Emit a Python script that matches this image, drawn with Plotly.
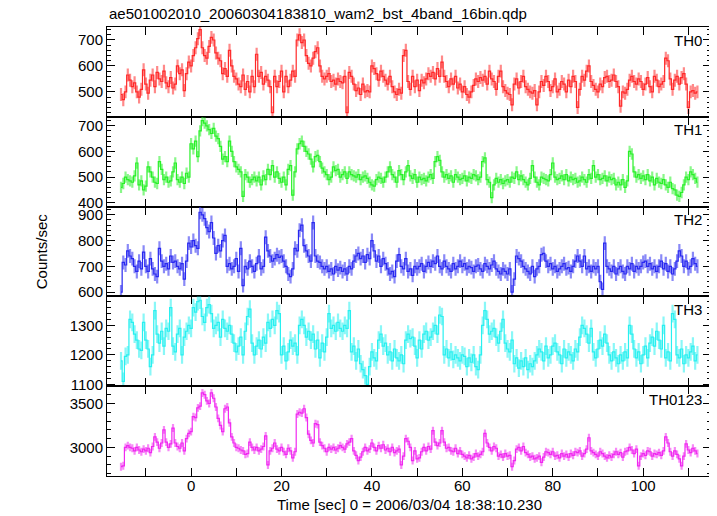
import plotly.graph_objects as go
from plotly.subplots import make_subplots

TITLE = "ae501002010_20060304183810_wam2_bst_4band_16bin.qdp"
X_LABEL = "Time [sec] 0 = 2006/03/04 18:38:10.230"
Y_LABEL = "Counts/sec"
PANELS = ["TH0", "TH1", "TH2", "TH3", "TH0123"]

TIME_START = -15.5
BIN_WIDTH = 0.5

TH0 = [490, 470, 500, 565, 545, 520, 535, 500, 480, 510,
       585, 530, 495, 545, 565, 520, 575, 550, 540, 580,
       535, 520, 555, 515, 530, 600, 570, 585, 505, 570,
       615, 600, 640, 670, 705, 740, 670, 640, 630, 675,
       710, 700, 650, 630, 620, 570, 590, 560, 660, 600,
       560, 550, 530, 520, 565, 510, 540, 500, 560, 520,
       645, 560, 575, 530, 560, 545, 520, 420, 560, 520,
       540, 580, 500, 560, 520, 545, 580, 560, 700, 720,
       690, 700, 640, 610, 600, 630, 655, 670, 600, 560,
       550, 560, 570, 540, 545, 530, 550, 540, 535, 560,
       420, 575, 560, 530, 505, 515, 490, 530, 500, 505,
       500, 600, 590, 570, 545, 580, 560, 545, 530, 560,
       520, 500, 490, 510, 495, 640, 660, 540, 510, 560,
       520, 545, 505, 545, 535, 550, 570, 560, 575, 550,
       590, 560, 615, 560, 540, 520, 550, 530, 560, 515,
       530, 500, 520, 490, 480, 500, 525, 550, 540, 555,
       545, 560, 530, 580, 550, 540, 510, 560, 580, 520,
       505, 495, 490, 450, 530, 550, 515, 540, 560, 520,
       510, 500, 495, 505, 450, 500, 540, 525, 560, 540,
       505, 520, 550, 500, 510, 540, 530, 500, 545, 520,
       560, 540, 440, 510, 560, 545, 580, 600, 540, 525,
       510, 500, 530, 520, 555, 560, 540, 545, 565, 540,
       520, 445, 500, 495, 510, 545, 560, 540, 530, 550,
       540, 510, 530, 555, 520, 500, 560, 545, 520, 530,
       540, 630, 620, 550, 510, 545, 560, 530, 555, 570,
       530, 440, 500, 505, 495, 500]

TH1 = [460, 475, 500, 490, 485, 480, 505, 555, 470, 485,
       450, 465, 540, 520, 500, 480, 475, 560, 530, 490,
       500, 480, 485, 520, 555, 490, 480, 500, 475, 515,
       500, 630, 610, 640, 580, 680, 720, 710, 700, 685,
       670, 690, 660, 650, 620, 570, 580, 560, 640, 600,
       560, 540, 530, 520, 425, 510, 500, 480, 490, 500,
       485, 500, 470, 505, 490, 530, 510, 545, 500, 520,
       495, 480, 500, 470, 530, 545, 430, 520, 610, 630,
       640, 620, 600, 590, 570, 540, 580, 585, 560, 535,
       520, 510, 490, 500, 540, 525, 530, 500, 510, 520,
       495, 520, 510, 505, 500, 510, 490, 500, 505, 495,
       480, 470, 465, 490, 500, 495, 480, 500, 520, 540,
       510, 500, 480, 525, 510, 490, 520, 545, 505, 495,
       510, 480, 500, 490, 495, 485, 500, 510, 495, 560,
       580, 565, 520, 500, 510, 495, 505, 480, 510, 500,
       490, 495, 505, 485, 500, 495, 510, 505, 490, 500,
       560, 575, 490, 480, 420, 470, 495, 480, 490, 475,
       485, 490, 480, 500, 495, 520, 490, 505, 490, 480,
       470, 495, 545, 500, 480, 470, 500, 495, 490, 485,
       510, 555, 500, 490, 495, 505, 490, 510, 485, 500,
       490, 495, 480, 485, 500, 490, 480, 510, 495, 545,
       500, 510, 490, 495, 505, 485, 500, 490, 495, 470,
       480, 470, 490, 460, 485, 600, 590, 520, 500, 510,
       495, 505, 490, 510, 485, 500, 470, 495, 480, 475,
       490, 470, 460, 480, 455, 450, 430, 425, 440, 470,
       500, 490, 520, 510, 495, 480]

TH2 = [600, 715, 705, 760, 740, 730, 700, 680, 720, 690,
       755, 700, 680, 730, 690, 670, 660, 770, 720, 700,
       710, 690, 740, 715, 720, 700, 690, 710, 650, 720,
       790, 775, 800, 780, 770, 910, 900, 885, 850, 835,
       870, 810, 750, 780, 760, 800, 820, 700, 710, 690,
       700, 730, 680, 770, 625, 700, 690, 720, 700, 680,
       710, 740, 690, 700, 813, 760, 740, 720, 730, 745,
       735, 740, 720, 700, 670, 660, 690, 770, 760, 840,
       860, 780, 760, 740, 720, 870, 740, 720, 715, 700,
       690, 700, 680, 690, 670, 700, 685, 695, 680, 690,
       670, 700, 690, 720, 740, 750, 730, 740, 715, 745,
       730, 800, 760, 720, 740, 700, 730, 710, 690, 670,
       680, 660, 720, 745, 700, 690, 730, 680, 690, 665,
       700, 690, 700, 710, 680, 700, 715, 700, 720, 710,
       740, 700, 690, 720, 700, 690, 680, 710, 690, 700,
       720, 700, 710, 690, 700, 695, 680, 700, 705, 690,
       680, 710, 700, 690, 705, 720, 690, 680, 670, 690,
       680, 670, 690, 600, 650, 740, 730, 720, 700, 690,
       680, 670, 700, 660, 690, 700, 745, 750, 720, 700,
       710, 690, 700, 680, 690, 700, 710, 690, 695, 680,
       700, 720, 740, 720, 700, 740, 690, 700, 680, 700,
       690, 700, 640, 610, 790, 700, 690, 680, 700, 670,
       690, 700, 680, 670, 700, 690, 710, 680, 700, 690,
       700, 715, 720, 700, 710, 690, 700, 680, 700, 720,
       690, 710, 680, 700, 670, 690, 720, 760, 740, 700,
       720, 690, 700, 730, 710, 700]

TH3 = [1180, 1110, 1195, 1200, 1320, 1310, 1270, 1250, 1220, 1215,
       1310, 1250, 1220, 1160, 1200, 1350, 1270, 1240, 1280, 1230,
       1290, 1280, 1360, 1230, 1210, 1270, 1290, 1200, 1260, 1280,
       1300, 1290, 1360, 1345, 1380, 1385, 1330, 1310, 1360, 1370,
       1340, 1290, 1300, 1310, 1260, 1320, 1290, 1280, 1300, 1270,
       1240, 1210, 1230, 1260, 1200, 1280, 1330, 1355, 1240, 1200,
       1230, 1250, 1220, 1260, 1240, 1310, 1290, 1320, 1300, 1350,
       1340, 1200, 1230, 1180, 1210, 1250, 1230, 1240, 1200, 1300,
       1320, 1300, 1260, 1280, 1250, 1270, 1220, 1250, 1190, 1240,
       1210, 1260, 1340, 1290, 1300, 1280, 1310, 1290, 1280, 1300,
       1290, 1350, 1210, 1230, 1180, 1220, 1170, 1150, 1130, 1100,
       1160, 1210, 1190, 1180, 1250, 1270, 1230, 1240, 1200, 1210,
       1180, 1220, 1190, 1180, 1200, 1170, 1250, 1270, 1255, 1260,
       1230, 1190, 1250, 1220, 1270, 1280, 1250, 1260, 1280, 1300,
       1270, 1335, 1330, 1200, 1220, 1190, 1210, 1185, 1200, 1190,
       1180, 1200, 1195, 1160, 1190, 1175, 1200, 1160, 1150, 1200,
       1300, 1350, 1320, 1270, 1280, 1290, 1260, 1240, 1280, 1320,
       1240, 1220, 1210, 1250, 1170, 1190, 1155, 1180, 1160, 1190,
       1150, 1170, 1160, 1180, 1200, 1220, 1210, 1180, 1230, 1190,
       1200, 1230, 1240, 1210, 1200, 1170, 1220, 1190, 1210, 1200,
       1180, 1220, 1210, 1260, 1300, 1290, 1270, 1240, 1290, 1210,
       1190, 1220, 1250, 1230, 1270, 1240, 1200, 1180, 1210, 1190,
       1170, 1200, 1180, 1210, 1190, 1300, 1270, 1220, 1190, 1210,
       1170, 1200, 1230, 1190, 1240, 1260, 1230, 1280, 1250, 1220,
       1300, 1190, 1210, 1180, 1340, 1320, 1200, 1190, 1220, 1170,
       1200, 1190, 1210, 1230, 1180, 1200]

TH0123 = [2780, 2790, 3000, 3020, 3000, 2990, 2960, 3000, 2970, 2950,
          2980, 2960, 2990, 2940, 3010, 3120, 3060, 2990, 3050, 3200,
          3060, 3000, 3040, 3220, 3050, 3010, 2990, 3050, 2960, 3100,
          3160, 3180, 3350, 3340, 3450, 3470, 3620, 3600, 3530, 3500,
          3620, 3560, 3460, 3330, 3250, 3180, 3440, 3460, 3280, 3120,
          3050, 3000, 2990, 2970, 2960, 2920, 2930, 3060, 3000, 2970,
          3000, 2960, 2980, 3010, 3130, 2800, 2960, 2990, 3050, 2980,
          2960, 3000, 2950, 2920, 2990, 2960, 2880, 2950, 3380, 3400,
          3390, 3440, 3340, 3150, 3080, 3050, 3270, 3260, 3060, 3020,
          2990, 2950, 3000, 2980, 3000, 2970, 2990, 3020, 3000, 2980,
          3040, 3060, 3100, 2960, 2910, 2850, 2890, 2950, 3000, 2960,
          2980, 3050, 3000, 2960, 3020, 2990, 3030, 2970, 2990, 2950,
          3000, 2940, 2960, 2980, 2800, 2900, 3100, 3070, 3000, 2850,
          2960, 2870, 2880, 2950, 3000, 2960, 3010, 2980, 3190, 3060,
          3020, 3050, 3190, 3060, 2990, 3000, 2960, 2950, 2990, 2930,
          2960, 2920, 2900, 2880, 2910, 2870, 2890, 2930, 2900, 2920,
          2950, 3160, 3050, 3000, 2960, 3010, 2990, 2900, 2920, 2890,
          2930, 2900, 2910, 2780, 2850, 2980, 3000, 2960, 3010, 2940,
          2920, 2890, 2900, 2870, 2880, 2900, 2830, 2890, 2950, 2940,
          2920, 2950, 2900, 2910, 2880, 2930, 2900, 2920, 2890, 2930,
          2910, 2950, 2940, 2960, 2900, 2930, 2980, 3110, 2960, 2940,
          2920, 2900, 2950, 2930, 2900, 2880, 2910, 2890, 2920, 2950,
          2920, 2940, 2890, 2950, 2960, 3000, 2970, 2930, 2980, 2790,
          2900, 2930, 2910, 2960, 2950, 2900, 2930, 2920, 2940, 2910,
          2960, 3120, 3050, 2950, 2900, 2960, 2920, 2870, 2790, 2900,
          3040, 2970, 2940, 2990, 2960, 2930]

ERRORS = [25, 22, 27, 30, 45]

SERIES = [TH0, TH1, TH2, TH3, TH0123]
COLORS = ["255,40,40", "40,240,40", "40,40,240", "40,240,240", "240,40,240"]
Y_RANGES = [[404, 750], [385, 735], [583, 932], [1094, 1398], [2674, 3697]]
Y_DTICK = [100, 100, 100, 100, 500]
Y_MINOR = [20, 20, 20, 20, 100]

time = [TIME_START + BIN_WIDTH * i for i in range(len(TH0))]

fig = make_subplots(rows=5, cols=1, shared_xaxes=True, vertical_spacing=0)
FONT = "Liberation Sans, Arial, Helvetica, sans-serif"

for k, (vals, col, err) in enumerate(zip(SERIES, COLORS, ERRORS)):
    fig.add_trace(go.Scatter(
        x=time, y=vals, mode="lines",
        line=dict(color=f"rgb({col})", width=1.2, shape="hvh"),
        error_y=dict(type="constant", value=err, color=f"rgba({col},0.55)", thickness=2.2, width=0),
        showlegend=False, hoverinfo="skip"), row=k + 1, col=1)
    fig.update_yaxes(range=Y_RANGES[k], dtick=Y_DTICK[k], tick0=0,
                     ticks="inside", ticklen=8, tickcolor="black", tickwidth=1,
                     minor=dict(dtick=Y_MINOR[k], ticks="inside", ticklen=4, tickcolor="black"),
                     showline=True, linecolor="black", linewidth=1, mirror="ticks",
                     showgrid=False, zeroline=False,
                     tickfont=dict(family=FONT, size=15, color="black"),
                     row=k + 1, col=1)
    fig.update_xaxes(range=[-18.6, 115], dtick=20, tick0=0,
                     ticks="inside", ticklen=8, tickcolor="black",
                     minor=dict(dtick=10, ticks="inside", ticklen=8, tickcolor="black"),
                     showline=True, linecolor="black", linewidth=1, mirror="ticks",
                     showgrid=False, zeroline=False, ticklabelstandoff=-4,
                     tickfont=dict(family=FONT, size=15, color="black"),
                     row=k + 1, col=1)

annotations = []
for k, name in enumerate(PANELS):
    dom = fig.layout[("yaxis" if k == 0 else f"yaxis{k + 1}")].domain
    annotations.append(dict(text=name, x=0.988, y=dom[1] - 0.006, xref="paper", yref="paper",
                            xanchor="right", yanchor="top", showarrow=False,
                            font=dict(family=FONT, size=15, color="black")))

annotations.append(dict(text=TITLE, x=0.0, y=1.029, xref="paper", yref="paper",
                        xanchor="left", yanchor="middle", showarrow=False,
                        font=dict(family=FONT, size=15, color="black")))
annotations.append(dict(text=Y_LABEL, x=-0.108, y=0.5, xref="paper", yref="paper",
                        xanchor="center", yanchor="middle", textangle=-90, showarrow=False,
                        font=dict(family=FONT, size=15, color="black")))
annotations.append(dict(text=X_LABEL, x=0.5, y=-0.0624, xref="paper", yref="paper",
                        xanchor="center", yanchor="middle", showarrow=False,
                        font=dict(family=FONT, size=15, color="black")))

fig.update_layout(width=709, height=508, margin=dict(l=99, r=6, t=19, b=40),
                  plot_bgcolor="white", paper_bgcolor="white",
                  annotations=annotations, showlegend=False)

fig.write_html("out.html")
